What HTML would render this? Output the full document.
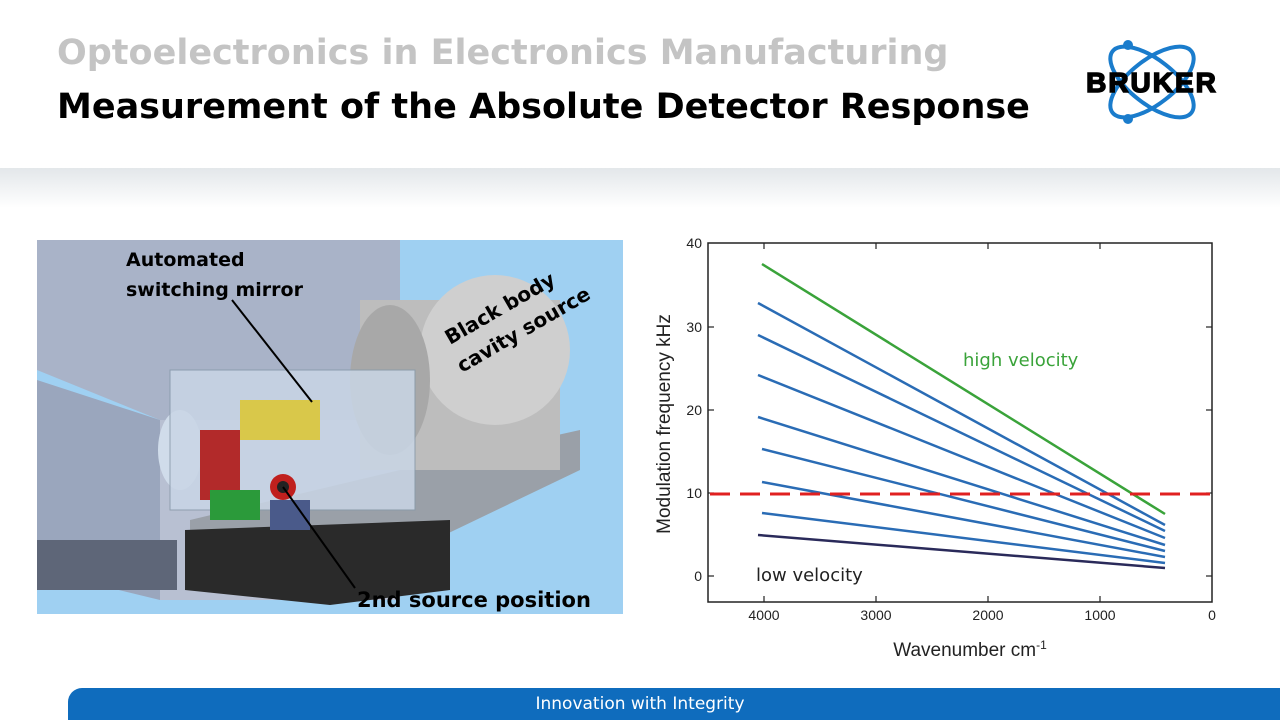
<!DOCTYPE html>
<html><head><meta charset="utf-8"><style>
body{margin:0;width:1280px;height:720px;position:relative;overflow:hidden;background:#fff;font-family:"DejaVu Sans","Liberation Sans",sans-serif}
.t1{position:absolute;left:57px;top:33px;font-size:35px;font-weight:bold;color:#c4c4c4}
.t2{position:absolute;left:57px;top:87px;font-size:35px;font-weight:bold;color:#000}
.band{position:absolute;left:0;top:168px;width:1280px;height:40px;background:linear-gradient(#e3e7ea,#fff)}
.foot{position:absolute;left:68px;top:688px;width:1212px;height:32px;background:#0f6cbd;border-top-left-radius:14px}
.ft{position:absolute;left:440px;top:688px;width:400px;text-align:center;color:#fff;font-size:17px;line-height:32px}
</style></head><body>
<div class="t1">Optoelectronics in Electronics Manufacturing</div>
<div class="t2">Measurement of the Absolute Detector Response</div>
<div class="band"></div>
<svg style="position:absolute;left:0;top:0" width="1280" height="720">
<g fill="none" stroke="#1a7ccc" stroke-width="4">
<ellipse cx="1152" cy="82" rx="50" ry="22" transform="rotate(38 1152 82)"/>
<ellipse cx="1152" cy="82" rx="50" ry="22" transform="rotate(-38 1152 82)"/>
</g>
<circle cx="1128" cy="45" r="5" fill="#1a7ccc"/><circle cx="1128" cy="119" r="5" fill="#1a7ccc"/>
<text x="1152" y="92" text-anchor="middle" style="font-family:'Liberation Sans',sans-serif;font-weight:bold;font-size:28px" fill="#000" stroke="#000" stroke-width="1.5" letter-spacing="2">BRUKER</text>
<rect x="37" y="240" width="586" height="374" fill="#9fd0f2"/>
<polygon points="37,240 400,240 400,420 160,420 37,370" fill="#a9b3c8"/>
<polygon points="37,380 160,420 160,600 37,570" fill="#9aa6bd"/>
<polygon points="160,420 400,420 400,600 160,600" fill="#b8c0d2"/>
<rect x="37" y="540" width="140" height="50" fill="#5e6678"/>
<ellipse cx="180" cy="450" rx="22" ry="40" fill="#d0dcea"/>
<polygon points="400,470 580,430 580,470 330,590 190,590 190,520" fill="#9aa0a8"/>
<polygon points="185,530 450,520 450,590 330,605 185,590" fill="#2a2a2a"/>
<rect x="360" y="300" width="200" height="170" fill="#bdbdbd"/>
<ellipse cx="495" cy="350" rx="75" ry="75" fill="#cfcfcf"/>
<ellipse cx="390" cy="380" rx="40" ry="75" fill="#a8a8a8"/>
<rect x="170" y="370" width="245" height="140" fill="#c9d6e6" stroke="#8899aa" opacity="0.85"/>
<rect x="200" y="430" width="40" height="70" fill="#b22a2a"/>
<rect x="210" y="490" width="50" height="30" fill="#2b9a3a"/>
<rect x="240" y="400" width="80" height="40" fill="#d9c84a"/>
<circle cx="283" cy="487" r="13" fill="#c0201e"/><circle cx="283" cy="487" r="6" fill="#222"/>
<rect x="270" y="500" width="40" height="30" fill="#4a5a8a"/>
<g font-family="DejaVu Sans" font-weight="bold" fill="#000">
<text x="126" y="266" font-size="19">Automated</text>
<text x="126" y="296" font-size="19">switching mirror</text>
<text x="357" y="607" font-size="21">2nd source position</text>
<text x="450" y="345" font-size="20" transform="rotate(-30 450 345)">Black body</text>
<text x="462" y="373" font-size="20" transform="rotate(-30 462 373)">cavity source</text>
</g>
<line x1="232" y1="300" x2="312" y2="402" stroke="#000" stroke-width="2"/>
<line x1="283" y1="487" x2="355" y2="588" stroke="#000" stroke-width="2"/>
<rect x="708" y="243" width="504" height="359" fill="none" stroke="#222" stroke-width="1.5"/>
<g stroke="#222" stroke-width="1.2">
<line x1="708" y1="327" x2="714" y2="327"/><line x1="708" y1="410" x2="714" y2="410"/><line x1="708" y1="493" x2="714" y2="493"/><line x1="708" y1="576" x2="714" y2="576"/>
<line x1="1206" y1="327" x2="1212" y2="327"/><line x1="1206" y1="410" x2="1212" y2="410"/><line x1="1206" y1="493" x2="1212" y2="493"/><line x1="1206" y1="576" x2="1212" y2="576"/>
<line x1="764" y1="596" x2="764" y2="602"/><line x1="876" y1="596" x2="876" y2="602"/><line x1="988" y1="596" x2="988" y2="602"/><line x1="1100" y1="596" x2="1100" y2="602"/>
<line x1="764" y1="243" x2="764" y2="249"/><line x1="876" y1="243" x2="876" y2="249"/><line x1="988" y1="243" x2="988" y2="249"/><line x1="1100" y1="243" x2="1100" y2="249"/>
</g>
<g font-family="Liberation Sans" font-size="14" fill="#222" text-anchor="end">
<text x="702" y="248">40</text><text x="702" y="332">30</text><text x="702" y="415">20</text><text x="702" y="498">10</text><text x="702" y="581">0</text>
</g>
<g font-family="Liberation Sans" font-size="14" fill="#222" text-anchor="middle">
<text x="764" y="620">4000</text><text x="876" y="620">3000</text><text x="988" y="620">2000</text><text x="1100" y="620">1000</text><text x="1212" y="620">0</text>
</g>
<text x="970" y="656" text-anchor="middle" font-family="Liberation Sans" font-size="19" fill="#222">Wavenumber cm<tspan dy="-7" font-size="12">-1</tspan></text>
<text x="670" y="424" text-anchor="middle" font-family="Liberation Sans" font-size="19" fill="#222" transform="rotate(-90 670 424)">Modulation frequency kHz</text>
<g stroke="#2a6cb5" stroke-width="2.5">
<line x1="758" y1="303" x2="1165" y2="525"/>
<line x1="758" y1="335" x2="1165" y2="531"/>
<line x1="758" y1="375" x2="1165" y2="538"/>
<line x1="758" y1="417" x2="1165" y2="545"/>
<line x1="762" y1="449" x2="1165" y2="551"/>
<line x1="762" y1="482" x2="1165" y2="557"/>
<line x1="762" y1="513" x2="1165" y2="563"/>
</g>
<line x1="762" y1="264" x2="1165" y2="514" stroke="#3aa33a" stroke-width="2.5"/>
<line x1="758" y1="535" x2="1165" y2="568" stroke="#2a2a5a" stroke-width="2.5"/>
<line x1="710" y1="494" x2="1210" y2="494" stroke="#e02020" stroke-width="3" stroke-dasharray="20,10"/>
<text x="963" y="366" font-family="DejaVu Sans" font-size="18" fill="#3aa33a">high velocity</text>
<text x="756" y="581" font-family="DejaVu Sans" font-size="18" fill="#222">low velocity</text>
</svg>
<div class="foot"></div>
<div class="ft">Innovation with Integrity</div>
</body></html>
